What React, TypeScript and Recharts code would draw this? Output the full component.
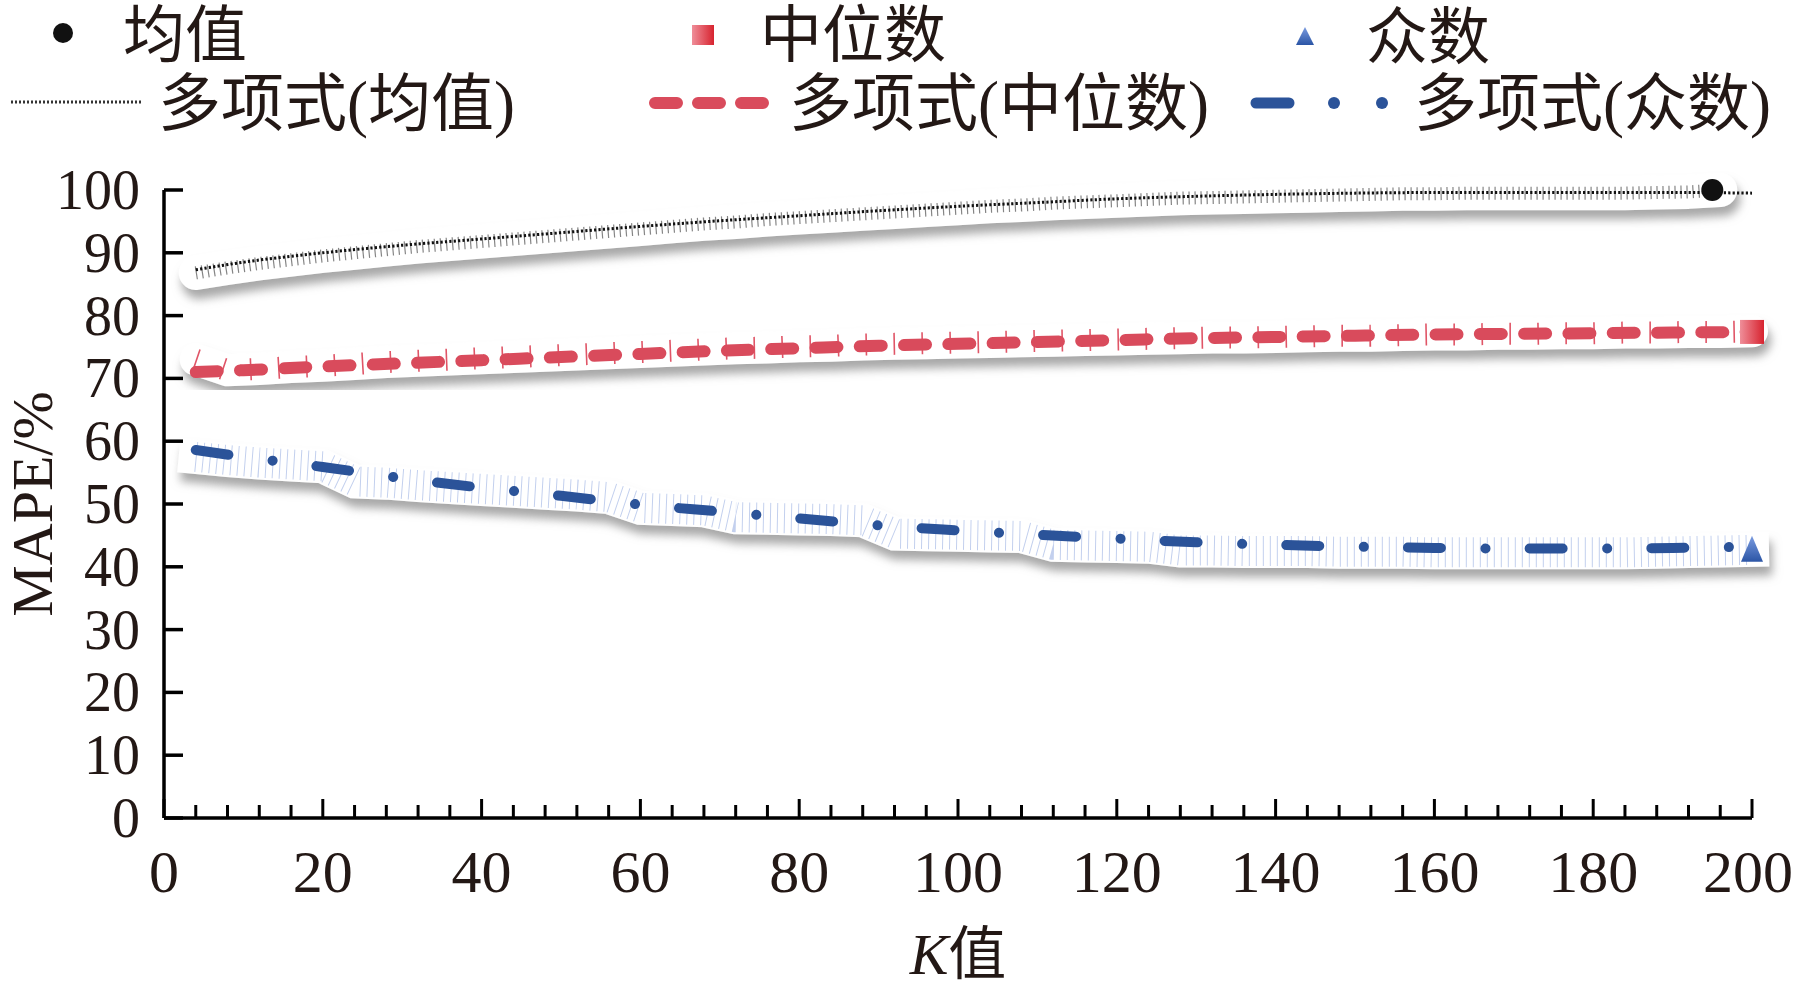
import React from "react";
import { ComposedChart, Line, Scatter, XAxis, YAxis } from "recharts";

const kValues = [
  4, 8, 12, 16, 20, 24, 28, 32, 36, 40, 44, 48, 52, 56, 60, 64, 68, 72, 76, 80, 84, 88, 92, 96, 100,
  104, 108, 112, 116, 120, 124, 128, 132, 136, 140, 144, 148, 152, 156, 160, 164, 168, 172, 176, 180,
  184, 188, 192, 196, 200,
];
const meanValues = [
  86.8, 87.6, 88.3, 88.9, 89.5, 90.0, 90.5, 91.0, 91.4, 91.8, 92.2, 92.6, 93.0, 93.4, 93.8, 94.2,
  94.6, 94.9, 95.3, 95.6, 95.9, 96.2, 96.5, 96.8, 97.1, 97.4, 97.6, 97.9, 98.1, 98.3, 98.5, 98.7,
  98.8, 98.9, 99.0, 99.1, 99.2, 99.3, 99.4, 99.4, 99.5, 99.5, 99.5, 99.5, 99.5, 99.5, 99.6, 99.7,
  100.0, null,
];
const medianValues = [
  73.0, 71.3, 71.5, 71.8, 72.0, 72.3, 72.6, 72.8, 73.0, 73.2, 73.4, 73.6, 73.8, 74.0, 74.2, 74.4,
  74.6, 74.8, 74.9, 75.1, 75.2, 75.4, 75.5, 75.6, 75.7, 75.8, 75.9, 76.0, 76.1, 76.2, 76.3, 76.4,
  76.5, 76.5, 76.6, 76.7, 76.8, 76.8, 76.9, 77.0, 77.0, 77.1, 77.1, 77.2, 77.2, 77.3, 77.3, 77.4,
  77.4, 77.5,
];
const modeValues = [
  57.5, 57.0, 56.6, 56.3, 56.0, 53.6, 53.4, 53.0, 52.7, 52.4, 52.1, 51.8, 51.5, 51.1, 49.4, 49.2,
  49.0, 47.9, 47.8, 47.7, 47.6, 47.4, 45.3, 45.2, 45.1, 45.0, 44.9, 43.5, 43.4, 43.3, 43.2, 42.6,
  42.6, 42.5, 42.5, 42.5, 42.4, 42.4, 42.4, 42.3, 42.3, 42.3, 42.3, 42.3, 42.3, 42.3, 42.4, 42.5,
  42.6, 42.7,
];

// polynomial trend lines
const trendK = [4, 10, 20, 30, 40, 50, 60, 70, 80, 90, 100, 110, 120, 130, 140, 150, 160, 170, 180, 190, 200];
const meanTrend = [87.3, 88.5, 90.0, 91.2, 92.2, 93.2, 94.2, 95.1, 95.9, 96.7, 97.4, 98.0, 98.6, 99.0, 99.3, 99.5, 99.6, 99.6, 99.6, 99.6, 99.5];
const medianTrend = [71.0, 71.3, 71.9, 72.4, 72.9, 73.4, 73.9, 74.4, 74.8, 75.2, 75.5, 75.8, 76.1, 76.4, 76.6, 76.8, 77.0, 77.1, 77.2, 77.3, 77.4];
const modeTrend = [58.6, 57.5, 55.9, 54.1, 52.6, 51.3, 49.9, 48.8, 47.7, 46.6, 45.8, 45.1, 44.5, 43.9, 43.5, 43.2, 43.0, 42.9, 42.9, 43.0, 43.2];

// highlighted end points
const meanEnd = [{ k: 195, v: 100 }];
const medianEnd = [{ k: 200, v: 77.4 }];
const modeEnd = [{ k: 200, v: 42.7 }];

const yTicks = [0, 10, 20, 30, 40, 50, 60, 70, 80, 90, 100];
const xTicks = [
  0, 4, 8, 12, 16, 20, 24, 28, 32, 36, 40, 44, 48, 52, 56, 60, 64, 68, 72, 76, 80, 84, 88, 92, 96, 100,
  104, 108, 112, 116, 120, 124, 128, 132, 136, 140, 144, 148, 152, 156, 160, 164, 168, 172, 176, 180,
  184, 188, 192, 196, 200,
];

const legendNames = ["均值", "中位数", "众数", "多项式(均值)", "多项式(中位数)", "多项式(众数)"];

const rawData = kValues.map((k, i) => ({
  k,
  mean: meanValues[i],
  median: medianValues[i],
  mode: modeValues[i],
}));
const trendData = trendK.map((k, i) => ({
  k,
  meanT: meanTrend[i],
  medianT: medianTrend[i],
  modeT: modeTrend[i],
}));

const FONT = '"Liberation Serif", "Noto Sans CJK SC", serif';
const INK = "#231815";
const RED = "#d94b5c";
const BLUE = "#2b5399";

const YTick = (props: any) => {
  const { x, y, payload } = props;
  return (
    <g>
      <line x1={x} y1={y} x2={x + 19} y2={y} stroke="#000" strokeWidth={3.5} />
      <text x={x - 24} y={y} textAnchor="end" dominantBaseline="central" fontSize={56} fontFamily={FONT} fill={INK}>
        {payload.value}
      </text>
    </g>
  );
};

const XTick = (props: any) => {
  const { x, y, payload } = props;
  const major = payload.value % 20 === 0;
  // the last label sits against the right edge of the picture
  const tx = payload.value === 200 ? x - 4 : x;
  return (
    <g>
      <line x1={x} y1={y} x2={x} y2={y - (major ? 19 : 13)} stroke="#000" strokeWidth={3} />
      {major && (
        <text x={tx} y={y + 54} textAnchor="middle" dominantBaseline="central" fontSize={60} fontFamily={FONT} fill={INK}>
          {payload.value}
        </text>
      )}
    </g>
  );
};

const YLabel = (props: any) => {
  const vb = props.viewBox;
  const cx = vb.x + 32;
  const cy = vb.y + vb.height / 2;
  return (
    <text x={cx} y={cy} transform={`rotate(-90 ${cx} ${cy})`} textAnchor="middle" dominantBaseline="central" fontSize={58} fontFamily={FONT} fill={INK}>
      MAPE/%
    </text>
  );
};

const XLabel = (props: any) => {
  const vb = props.viewBox;
  return (
    <text x={vb.x + vb.width / 2} y={vb.y + 136} textAnchor="middle" dominantBaseline="central" fontSize={58} fontFamily={FONT} fill={INK}>
      <tspan fontStyle="italic">K</tspan>值
    </text>
  );
};

const CircleEnd = (props: any) => <circle cx={props.cx} cy={props.cy} r={11} fill="#111" />;
const SquareEnd = (props: any) => (
  <rect x={props.cx - 12} y={props.cy - 12} width={24} height={24} fill="url(#sqGrad)" />
);
const TriEnd = (props: any) => (
  <polygon
    points={`${props.cx},${props.cy - 14} ${props.cx - 11},${props.cy + 12} ${props.cx + 11},${props.cy + 12}`}
    fill="url(#triGrad)"
  />
);

function ChartLegend() {
  const t = { fontSize: 62, fontFamily: FONT, fill: INK, dominantBaseline: "central" as const };
  return (
    <svg width={1796} height={150} style={{ position: "absolute", left: 0, top: 0 }}>
      <defs>
        <linearGradient id="sqGradL" x1="0" y1="0" x2="1" y2="0">
          <stop offset="0" stopColor="#ef8e99" />
          <stop offset="1" stopColor="#d7232f" />
        </linearGradient>
        <linearGradient id="triGradL" x1="0" y1="0" x2="0" y2="1">
          <stop offset="0" stopColor="#7a9be0" />
          <stop offset="1" stopColor="#2b55a5" />
        </linearGradient>
      </defs>
      <circle cx={63} cy={33} r={10} fill="#111" />
      <text x={123} y={36} {...t}>{legendNames[0]}</text>
      <rect x={692} y={25} width={22} height={20} fill="url(#sqGradL)" />
      <text x={760} y={36} {...t}>{legendNames[1]}</text>
      <polygon points="1305,27 1296,45 1314,45" fill="url(#triGradL)" />
      <text x={1366} y={38} {...t}>{legendNames[2]}</text>

      <line x1={11} y1={102} x2={141} y2={102} stroke="#333" strokeWidth={3} strokeDasharray="2 2" />
      <text x={158} y={104} {...t} fontSize={63}>{legendNames[3]}</text>
      <line x1={655} y1={103} x2={763} y2={103} stroke={RED} strokeWidth={12} strokeDasharray="22 21" strokeLinecap="round" />
      <text x={789} y={104} {...t} fontSize={63}>{legendNames[4]}</text>
      <line x1={1256} y1={103} x2={1289} y2={103} stroke={BLUE} strokeWidth={11} strokeLinecap="round" />
      <circle cx={1334} cy={103} r={6} fill={BLUE} />
      <circle cx={1382} cy={103} r={6} fill={BLUE} />
      <text x={1414} y={104} {...t} fontSize={63}>{legendNames[5]}</text>
    </svg>
  );
}

export default function App() {
  return (
    <div style={{ position: "absolute", left: 0, top: 0, width: 1796, height: 992, background: "#fff" }}>
      <ComposedChart
        width={1796}
        height={992}
        data={rawData}
        margin={{ top: 190, right: 44, bottom: 74, left: 0 }}
      >
        <defs>
          <filter id="ribbonShadow" x="-5%" y="-50%" width="110%" height="200%">
            <feDropShadow dx="3" dy="9" stdDeviation="5" floodColor="#8a8a8a" floodOpacity="0.75" />
          </filter>
          <linearGradient id="sqGrad" x1="0" y1="0" x2="1" y2="0">
            <stop offset="0" stopColor="#ef8e99" />
            <stop offset="1" stopColor="#d7232f" />
          </linearGradient>
          <linearGradient id="triGrad" x1="0" y1="0" x2="0" y2="1">
            <stop offset="0" stopColor="#7a9be0" />
            <stop offset="1" stopColor="#2b55a5" />
          </linearGradient>
        </defs>
        <XAxis
          type="number"
          dataKey="k"
          domain={[0, 200]}
          ticks={xTicks}
          interval={0}
          height={100}
          tickSize={0}
          tickMargin={0}
          tickLine={false}
          axisLine={{ stroke: "#000", strokeWidth: 3.5 }}
          tick={<XTick />}
          label={<XLabel />}
        />
        <YAxis
          type="number"
          domain={[0, 100]}
          ticks={yTicks}
          interval={0}
          width={164}
          tickSize={0}
          tickMargin={0}
          tickLine={false}
          axisLine={{ stroke: "#000", strokeWidth: 3.5 }}
          tick={<YTick />}
          label={<YLabel />}
        />

        {/* white ribbons with shadow under the measured points */}
        <Line dataKey="mean" stroke="#fff" strokeWidth={34} strokeLinecap="round" strokeLinejoin="round" dot={false} filter="url(#ribbonShadow)" isAnimationActive={false} legendType="none" />
        <Line dataKey="median" stroke="#fff" strokeWidth={32} strokeLinecap="round" strokeLinejoin="round" dot={false} filter="url(#ribbonShadow)" isAnimationActive={false} legendType="none" />
        <Line dataKey="mode" stroke="#fff" strokeWidth={34} strokeLinecap="square" strokeLinejoin="miter" dot={false} filter="url(#ribbonShadow)" isAnimationActive={false} legendType="none" />

        {/* marker hatching along the measured points */}
        <Line dataKey="mean" stroke="#333" strokeOpacity={0.6} strokeWidth={13} strokeDasharray="1.2 4.8" dot={false} isAnimationActive={false} legendType="none" />
        <Line dataKey="median" stroke="#e05567" strokeWidth={22} strokeDasharray="1.6 26.4" dot={false} isAnimationActive={false} legendType="none" />
        <Line dataKey="mode" stroke="#c3d0ee" strokeWidth={30} strokeDasharray="1 6" dot={false} isAnimationActive={false} legendType="none" />

        {/* polynomial trend lines */}
        <Line data={trendData} dataKey="meanT" type="monotone" stroke="#111" strokeWidth={3} strokeDasharray="2.2 2.2" dot={false} isAnimationActive={false} />
        <Line data={trendData} dataKey="medianT" type="monotone" stroke={RED} strokeWidth={12} strokeDasharray="22 22.3" strokeLinecap="round" dot={false} isAnimationActive={false} />
        <Line data={trendData} dataKey="modeT" type="monotone" stroke={BLUE} strokeWidth={10} strokeDasharray="33 44.5 0.1 44.1" strokeLinecap="round" dot={false} isAnimationActive={false} />

        {/* end markers */}
        <Scatter data={meanEnd} dataKey="v" shape={<CircleEnd />} isAnimationActive={false} />
        <Scatter data={medianEnd} dataKey="v" shape={<SquareEnd />} isAnimationActive={false} />
        <Scatter data={modeEnd} dataKey="v" shape={<TriEnd />} isAnimationActive={false} />
      </ComposedChart>
      <ChartLegend />
    </div>
  );
}
